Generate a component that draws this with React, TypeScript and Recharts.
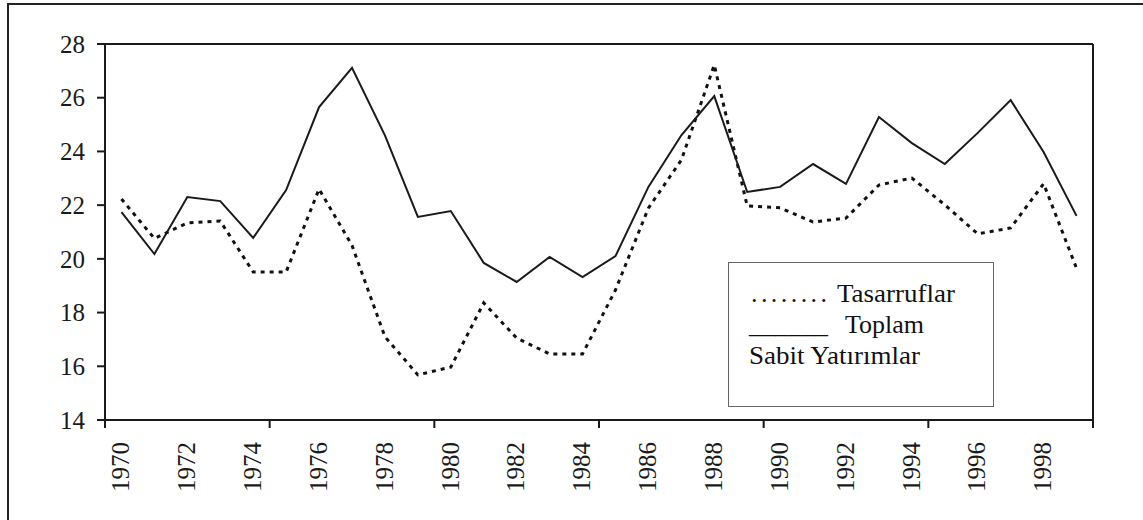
import React from 'react';
import { LineChart, Line, XAxis, YAxis, ReferenceLine } from 'recharts';

const years = [1970, 1971, 1972, 1973, 1974, 1975, 1976, 1977, 1978, 1979, 1980, 1981, 1982, 1983, 1984, 1985, 1986, 1987, 1988, 1989, 1990, 1991, 1992, 1993, 1994, 1995, 1996, 1997, 1998, 1999];
const tasarruflar = [22.23, 20.76, 21.34, 21.41, 19.51, 19.51, 22.6, 20.5, 17.1, 15.68, 15.97, 18.36, 17.05, 16.46, 16.46, 18.84, 21.89, 23.68, 27.22, 21.97, 21.9, 21.37, 21.52, 22.75, 23.01, 22.01, 20.93, 21.15, 22.8, 19.65];
const toplam = [21.74, 20.18, 22.3, 22.15, 20.78, 22.56, 25.65, 27.11, 24.6, 21.56, 21.78, 19.85, 19.14, 20.07, 19.32, 20.1, 22.68, 24.6, 26.06, 22.49, 22.68, 23.53, 22.79, 25.28, 24.31, 23.53, 24.69, 25.91, 23.98, 21.6];
const yTicks = [14, 16, 18, 20, 22, 24, 26, 28];
const xLabelYears = [1970, 1972, 1974, 1976, 1978, 1980, 1982, 1984, 1986, 1988, 1990, 1992, 1994, 1996, 1998];
const xMarks = [1969.5, 1974.5, 1979.5, 1984.5, 1989.5, 1994.5, 1999.5];
const xTicks = [...xMarks, ...xLabelYears].sort((a, b) => a - b);

const data = years.map((y, i) => ({ year: y, tasarruflar: tasarruflar[i], toplam: toplam[i] }));

const FONT = 'Liberation Serif';
const INK = '#1a1a1a';

const XTick = (props: any) => {
  const { x, y, payload } = props;
  const v = payload.value as number;
  if (!Number.isInteger(v)) {
    return <line x1={x} x2={x} y1={y} y2={y + 8} stroke={INK} strokeWidth={2} />;
  }
  return (
    <text
      transform={`translate(${x - 1},${y + 22}) rotate(-90)`}
      textAnchor="end"
      dy="0.35em"
      fontFamily={FONT}
      fontSize={25}
      fill={INK}
    >
      {v}
    </text>
  );
};

const YTick = (props: any) => {
  const { x, y, payload } = props;
  return (
    <text
      x={x}
      y={y}
      textAnchor="end"
      dy="0.35em"
      fontFamily={FONT}
      fontSize={25}
      fill={INK}
    >
      {payload.value}
    </text>
  );
};

export default function App() {
  return (
    <div style={{ position: 'relative', width: 1143, height: 520, overflow: 'hidden', background: '#fff' }}>
      <style>{'body{margin:0}'}</style>
      <div style={{ position: 'absolute', left: 7, top: 3, width: 1160, height: 540, border: '2px solid #222' }} />
      <div style={{ position: 'absolute', left: 0, top: 0 }}>
        <LineChart width={1143} height={520} data={data} margin={{ top: 44, right: 50, left: 45, bottom: 0 }}>
          <XAxis
            dataKey="year"
            type="number"
            domain={[1969.5, 1999.5]}
            ticks={xTicks}
            interval={0}
            height={100}
            tickLine={false}
            tickSize={0}
            tickMargin={0}
            tick={<XTick />}
            axisLine={{ stroke: INK, strokeWidth: 2 }}
          />
          <YAxis
            type="number"
            domain={[14, 28]}
            ticks={yTicks}
            interval={0}
            width={60}
            tickSize={8}
            tickMargin={12}
            tick={<YTick />}
            tickLine={{ stroke: INK, strokeWidth: 2 }}
            axisLine={{ stroke: INK, strokeWidth: 2 }}
          />
          <ReferenceLine y={28} stroke={INK} strokeWidth={2} />
          <ReferenceLine x={1999.5} stroke={INK} strokeWidth={2} />
          <Line
            type="linear"
            dataKey="tasarruflar"
            name="Tasarruflar"
            stroke="#111"
            strokeWidth={3}
            strokeDasharray="4 5"
            dot={false}
            isAnimationActive={false}
          />
          <Line
            type="linear"
            dataKey="toplam"
            name="Toplam Sabit Yatırımlar"
            stroke={INK}
            strokeWidth={2}
            dot={false}
            isAnimationActive={false}
          />
        </LineChart>
      </div>
      <svg width={1143} height={520} style={{ position: 'absolute', left: 0, top: 0, pointerEvents: 'none' }}>
        <rect x={728.5} y={262.5} width={265} height={144} fill="#fff" stroke="#666" strokeWidth={1} />
        <g fontFamily={FONT} fontSize={26} fill="#111">
          <text x={751} y={302} textLength={76} lengthAdjust="spacing">........</text>
          <text x={837} y={302} textLength={118} lengthAdjust="spacingAndGlyphs">Tasarruflar</text>
          <text x={749} y={333} textLength={79} lengthAdjust="spacingAndGlyphs">______</text>
          <text x={845} y={333} textLength={79} lengthAdjust="spacingAndGlyphs">Toplam</text>
          <text x={749} y={364} textLength={171} lengthAdjust="spacingAndGlyphs">Sabit Yatırımlar</text>
        </g>
      </svg>
    </div>
  );
}
